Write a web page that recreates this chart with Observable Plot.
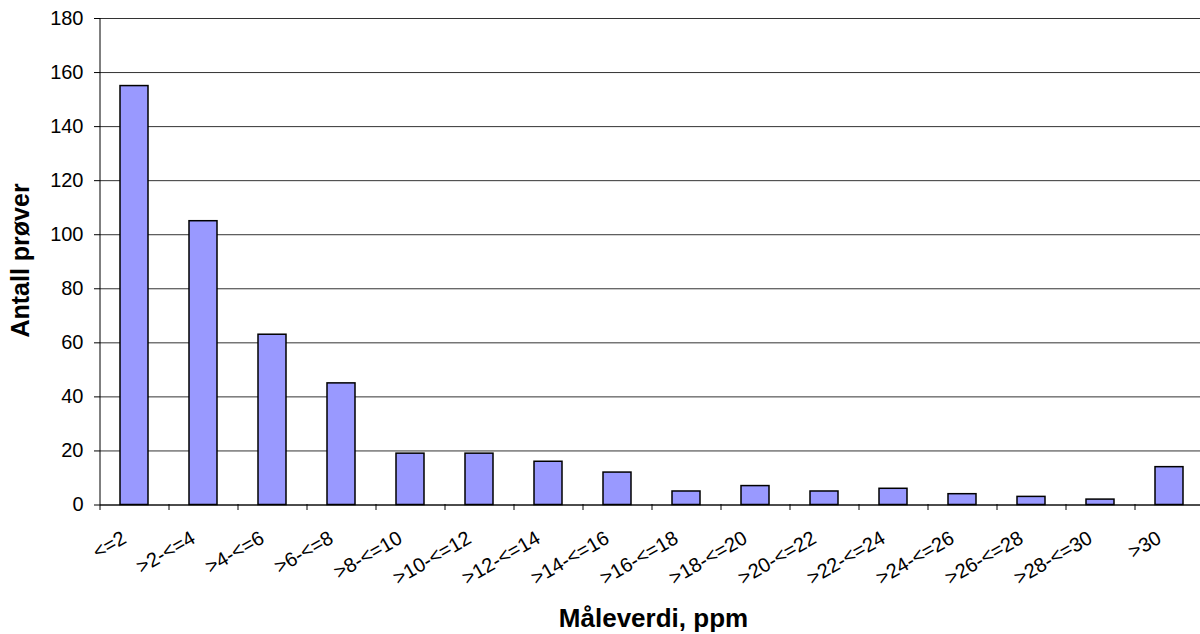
<!DOCTYPE html>
<html>
<head>
<meta charset="utf-8">
<script src="https://cdn.jsdelivr.net/npm/d3@7"></script>
<script src="https://cdn.jsdelivr.net/npm/@observablehq/plot@0.6"></script>
<style>
  html, body { margin: 0; padding: 0; background: #fff; }
  #chart { width: 1200px; height: 634px; overflow: hidden; }
</style>
</head>
<body>
<div id="chart"></div>
<script>
const categories = [
  "<=2", ">2-<=4", ">4-<=6", ">6-<=8", ">8-<=10", ">10-<=12", ">12-<=14", ">14-<=16",
  ">16-<=18", ">18-<=20", ">20-<=22", ">22-<=24", ">24-<=26", ">26-<=28", ">28-<=30", ">30"
];
const counts = [155, 105, 63, 45, 19, 19, 16, 12, 5, 7, 5, 6, 4, 3, 2, 14];
const yTicks = [0, 20, 40, 60, 80, 100, 120, 140, 160, 180];
const xTitle = "Måleverdi, ppm";
const yTitle = "Antall prøver";

const data = categories.map((c, i) => ({category: c, count: counts[i]}));

const chart = Plot.plot({
  width: 1200,
  height: 634,
  marginLeft: 100,
  marginRight: 0,
  marginTop: 18,
  marginBottom: 130,
  style: {fontFamily: "'Liberation Sans', Arial, sans-serif", fontSize: "20px", color: "#000", background: "#fff", overflow: "hidden"},
  x: {domain: categories, range: [100, 1204], paddingInner: 0.59, paddingOuter: 0.295, align: 0.5},
  y: {domain: [0, 180], range: [504.5, 18]},
  marks: [
    Plot.gridY(yTicks, {stroke: "#333", strokeOpacity: 1, strokeWidth: 1}),
    Plot.barY(data, {x: "category", y: "count", fill: "#9999FF", stroke: "#000", strokeWidth: 1.5}),
    Plot.ruleY([0], {stroke: "#000", strokeWidth: 1}),
    Plot.ruleX([0], {x: () => categories[0], dx: -34.5, stroke: "#000"}),
    Plot.axisY(yTicks, {tickSize: 6, tickPadding: 11, fontSize: 20, label: null, stroke: "#000"}),
    Plot.axisX(categories, {tickSize: 6, tickFormat: () => "", dx: -34.5, label: null, stroke: "#000"}),
    Plot.axisX(categories, {tickSize: 0, tickPadding: 32, tickRotate: -30, dx: -10, fontSize: 20, label: null}),
    Plot.text([xTitle], {frameAnchor: "bottom", textAnchor: "middle", lineAnchor: "middle", dx: 3, dy: 114, fontWeight: "bold", fontSize: 26, text: d => d}),
    Plot.text([yTitle], {frameAnchor: "left", textAnchor: "middle", lineAnchor: "middle", dx: -80, dy: -1, rotate: -90, fontWeight: "bold", fontSize: 25, text: d => d})
  ]
});
document.getElementById("chart").appendChild(chart);
</script>
</body>
</html>
